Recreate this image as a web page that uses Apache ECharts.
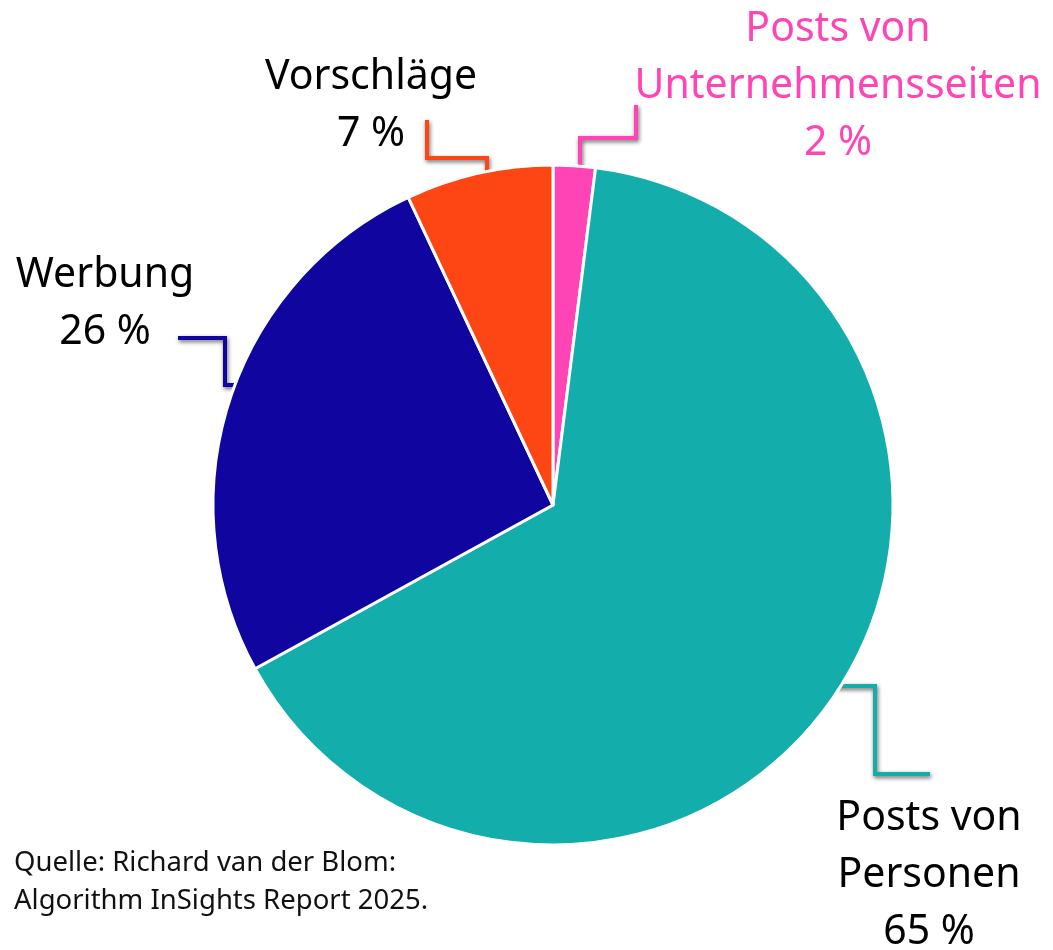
<html lang="de">
<head>
  <meta charset="UTF-8">
  <title>Pie</title>
  <style>
    body { margin: 0; background: #fff; }
    #chart { width: 1053px; height: 950px; }
  </style>
</head>
<body>
  <div id="chart"></div>
  <script src="https://cdn.jsdelivr.net/npm/echarts@6/dist/echarts.min.js"></script>
  <script>
    // Daten
    const names = ['Posts von\nUnternehmensseiten', 'Posts von\nPersonen', 'Werbung', 'Vorschläge']
    const values = [2, 65, 26, 7]
    const colors = ['#ff45b6', '#13aeab', '#10069f', '#fe4614']
    const labelColors = ['#ff45b6', '#000', '#000', '#000']

    // label centre and elbow leader line for each slice
    const labelPos = [[838, 86], [929, 875], [105, 304], [371, 106]]
    const linePts = [
      [[580, 195], [580, 138], [636, 138], [636, 105]],
      [[819, 686], [875, 686], [875, 774], [930, 774]],
      [[270, 385], [225, 385], [225, 338], [178, 338]],
      [[487, 200], [487, 158], [427, 158], [427, 120]]
    ]

    const chart = echarts.init(document.querySelector('#chart'))
    const option = {
      animation: false,
      title: {
        text: 'Quelle: Richard van der Blom:\nAlgorithm InSights Report 2025.',
        left: 9,
        top: 839,
        textStyle: {
          fontFamily: 'Noto Sans',
          fontSize: 27.5,
          fontWeight: 'normal',
          color: '#111',
          lineHeight: 38
        }
      },
      series: [
        {
          type: 'pie',
          center: [553, 505],
          radius: 340,
          startAngle: 90,
          clockwise: true,
          itemStyle: {
            borderColor: '#fff',
            borderWidth: 3
          },
          label: {
            show: true,
            formatter: p => p.name + '\n' + p.value + ' %',
            fontFamily: 'Noto Sans',
            fontSize: 41,
            lineHeight: 57,
            align: 'center',
            overflow: 'none'
          },
          labelLine: {
            show: true,
            lineStyle: {
              width: 4,
              shadowBlur: 4,
              shadowColor: 'rgba(0,0,0,0.6)',
              shadowOffsetX: 1,
              shadowOffsetY: 2
            }
          },
          labelLayout: params => ({
            x: labelPos[params.dataIndex][0],
            y: labelPos[params.dataIndex][1],
            align: 'center',
            verticalAlign: 'middle',
            labelLinePoints: linePts[params.dataIndex]
          }),
          data: names.map((n, i) => ({
            name: n,
            value: values[i],
            itemStyle: { color: colors[i] },
            label: { color: labelColors[i] },
            labelLine: { lineStyle: { color: colors[i] } }
          }))
        }
      ]
    }
    chart.setOption(option)
  </script>
</body>
</html>
